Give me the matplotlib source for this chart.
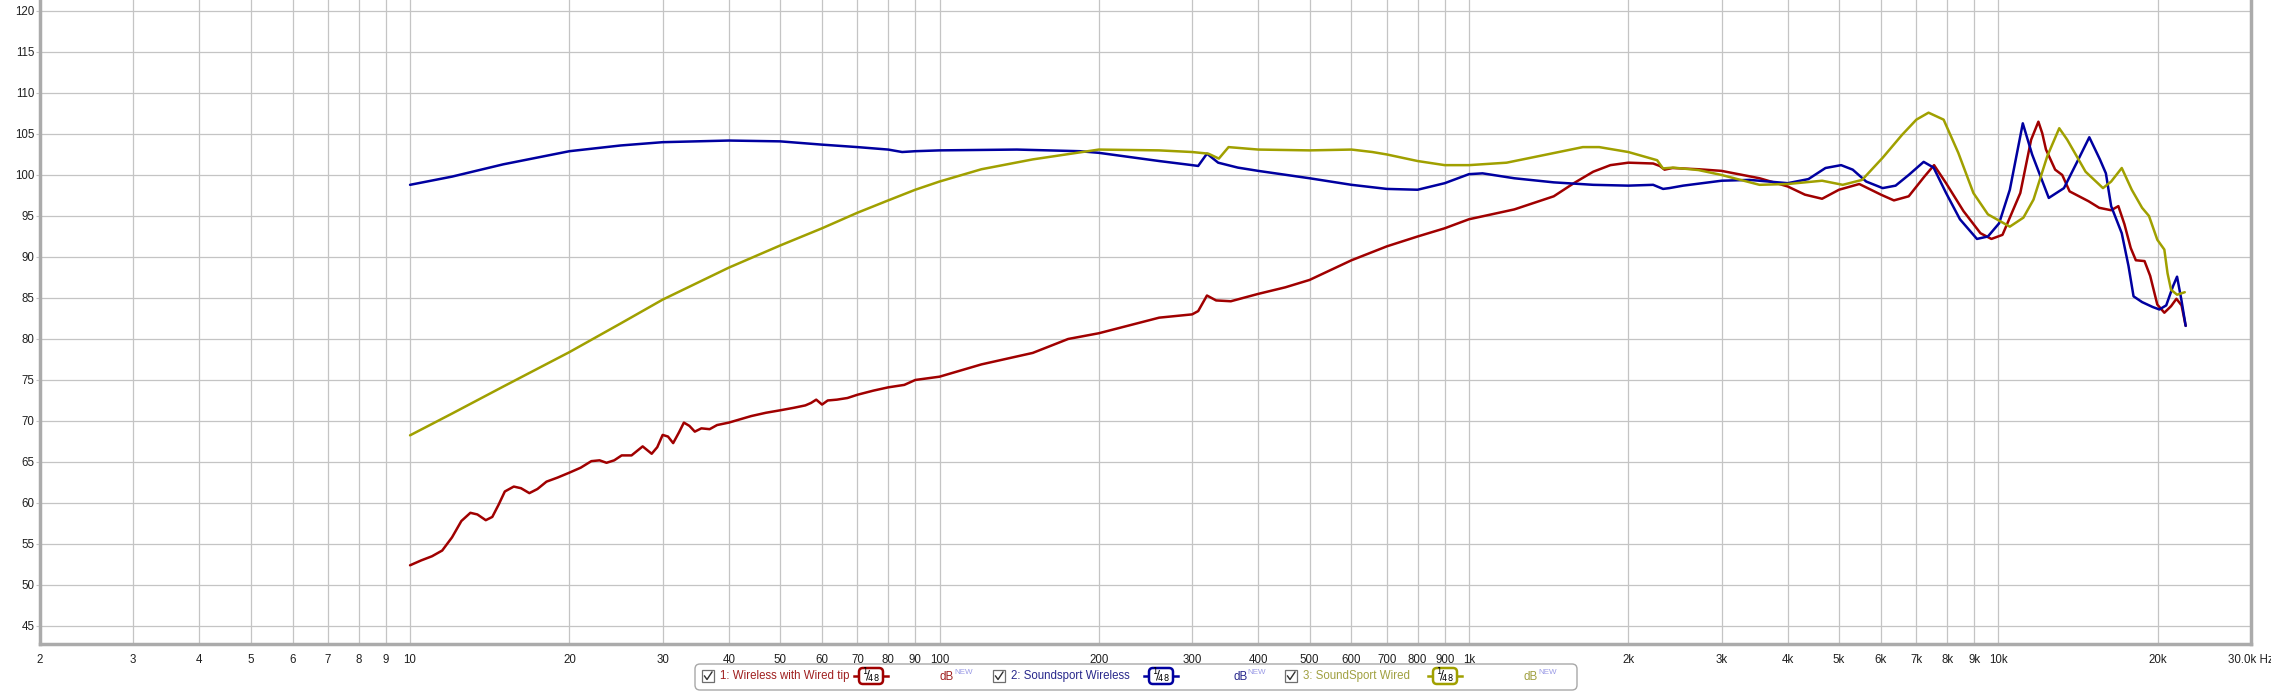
import matplotlib
matplotlib.use("Agg")
import matplotlib.pyplot as plt
from matplotlib.patches import FancyBboxPatch, Rectangle
from matplotlib.lines import Line2D
from matplotlib.ticker import NullLocator

plt.rcParams['font.family'] = ['Liberation Sans', 'DejaVu Sans']

# frequency response data (Hz, dB)
red_freq = [10, 10.5, 11, 11.5, 12, 12.5, 13, 13.4, 13.9, 14.3, 14.7, 15.1, 15.7, 16.2, 16.8,
            17.4, 18.1, 19, 20, 21, 22, 22.8, 23.5, 24.3, 25.1, 26.2, 27.5, 28.6, 29.3, 30,
            30.7, 31.4, 32.2, 32.9, 33.7, 34.5, 35.5, 36.8, 38, 40, 44.1, 47, 50, 53, 55.8,
            57.2, 58.5, 60, 61.5, 64, 67, 70, 75, 80, 85.8, 90, 100, 120, 150, 175, 200, 260,
            300, 308, 320, 333, 355, 400, 450, 500, 600, 700, 800, 900, 1000, 1218, 1446,
            1578, 1717, 1850, 2000, 2228, 2293, 2341, 2423, 2713, 3000, 3539, 4000, 4311,
            4645, 5000, 5461, 6000, 6348, 6770, 7247, 7560, 7965, 8590, 9250, 9700, 10180,
            11000, 11530, 11900, 12100, 12300, 12800, 13200, 13630, 14800, 15500, 16330, 16850,
            17300, 17780, 18180, 18880, 19350, 19960, 20580, 21190, 21690, 22180, 22580]
red_db = [52.4, 53.0, 53.5, 54.2, 55.8, 57.8, 58.8, 58.6, 57.9, 58.3, 59.8, 61.4, 62.0, 61.8, 61.2,
          61.7, 62.6, 63.1, 63.7, 64.3, 65.1, 65.2, 64.9, 65.2, 65.8, 65.8, 66.9, 66.0, 66.8, 68.3,
          68.1, 67.3, 68.6, 69.8, 69.4, 68.7, 69.1, 69.0, 69.5, 69.8, 70.6, 71.0, 71.3, 71.6, 71.9,
          72.2, 72.6, 72.0, 72.5, 72.6, 72.8, 73.2, 73.7, 74.1, 74.4, 75.0, 75.4, 76.9, 78.3, 80.0,
          80.7, 82.6, 83.0, 83.4, 85.3, 84.7, 84.6, 85.5, 86.3, 87.2, 89.6, 91.3, 92.5, 93.5, 94.6,
          95.8, 97.4, 99.0, 100.4, 101.2, 101.5, 101.4, 101.1, 100.65, 100.85, 100.7, 100.5, 99.6,
          98.6, 97.6, 97.1, 98.2, 98.9, 97.6, 96.9, 97.4, 99.8, 101.2, 99.0, 95.6, 92.9, 92.2,
          92.7, 97.8, 104.3, 106.5, 105.1, 103.1, 100.65, 100.0, 98.0, 96.8, 96.0, 95.7, 96.2,
          94.0, 91.1, 89.6, 89.5, 87.7, 84.2, 83.2, 84.0, 84.9, 84.1, 81.6]

blue_freq = [10, 12, 15, 20, 25, 30, 40, 50, 60, 70, 80, 85, 90, 100, 140, 184, 200, 260, 300,
             308, 320, 336, 366, 400, 500, 600, 700, 800, 900, 1000, 1061, 1218, 1446, 1717,
             2000, 2228, 2326, 2391, 2539, 3000, 3390, 4000, 4377, 4714, 5046, 5307, 5628, 6045,
             6395, 6770, 7225, 7544, 7965, 8460, 9110, 9554, 10030, 10510, 11120, 11580, 12450,
             13300, 14160, 14850, 15550, 15960, 16330, 17100, 17610, 18000, 18680, 19560, 20140,
             20750, 21360, 21750, 22160, 22580]
blue_db = [98.8, 99.8, 101.3, 102.9, 103.6, 104.0, 104.2, 104.1, 103.7, 103.4, 103.1, 102.8,
           102.9, 103.0, 103.1, 102.9, 102.7, 101.7, 101.2, 101.1, 102.6, 101.5, 100.9, 100.5,
           99.6, 98.8, 98.3, 98.2, 99.0, 100.1, 100.2, 99.6, 99.1, 98.8, 98.7, 98.8, 98.3, 98.4,
           98.7, 99.3, 99.4, 99.0, 99.5, 100.85, 101.2, 100.65, 99.2, 98.4, 98.7, 100.0, 101.6,
           100.9, 97.8, 94.6, 92.2, 92.5, 94.1, 98.2, 106.3, 102.5, 97.2, 98.4, 101.9, 104.6,
           101.9, 100.2, 96.2, 92.9, 88.9, 85.2, 84.5, 83.9, 83.6, 84.1, 86.4, 87.6, 84.8, 81.6]

olive_freq = [10, 12, 15, 20, 25, 30, 40, 50, 60, 70, 80, 90, 100, 120, 150, 200, 260, 300, 322,
              337, 351.5, 400, 500, 600, 657, 700, 800, 900, 1000, 1178, 1403, 1641, 1762, 2000,
              2267, 2325, 2430, 2713, 3000, 3539, 4000, 4645, 5082, 5528, 6045, 6578, 7000, 7380,
              7880, 8400, 8970, 9554, 10510, 11150, 11650, 12370, 13030, 13490, 14610, 15760,
              16330, 17100, 17860, 18680, 19250, 19960, 20580, 20870, 21190, 21750, 22490]
olive_db = [68.25, 70.9, 74.2, 78.4, 81.9, 84.8, 88.7, 91.4, 93.5, 95.4, 96.9, 98.2, 99.2, 100.7,
            101.9, 103.1, 103.0, 102.8, 102.6, 102.0, 103.4, 103.1, 103.0, 103.1, 102.8, 102.5,
            101.7, 101.2, 101.2, 101.5, 102.5, 103.4, 103.4, 102.8, 101.8, 100.8, 100.9, 100.6,
            100.0, 98.8, 98.9, 99.3, 98.8, 99.4, 102.1, 104.9, 106.75, 107.6, 106.75, 102.7,
            97.8, 95.2, 93.7, 94.8, 97.0, 102.3, 105.7, 104.3, 100.4, 98.4, 99.2, 100.85, 98.2,
            96.0, 95.0, 92.1, 90.9, 88.0, 86.0, 85.4, 85.7]

series_names = ['1: Wireless with Wired tip', '2: Soundsport Wireless', '3: SoundSport Wired']
line_colors = ['#A00000', '#0000A0', '#A0A000']
text_colors = ['#A02020', '#28288C', '#A0A040']

x_ticks = [2, 3, 4, 5, 6, 7, 8, 9, 10, 20, 30, 40, 50, 60, 70, 80, 90, 100,
           200, 300, 400, 500, 600, 700, 800, 900, 1000, 2000, 3000, 4000, 5000,
           6000, 7000, 8000, 9000, 10000, 20000, 30000]
x_tick_labels = ['2', '3', '4', '5', '6', '7', '8', '9', '10', '20', '30', '40', '50', '60',
                 '70', '80', '90', '100', '200', '300', '400', '500', '600', '700', '800', '900',
                 '1k', '2k', '3k', '4k', '5k', '6k', '7k', '8k', '9k', '10k', '20k', '30.0k Hz']
y_ticks = [45, 50, 55, 60, 65, 70, 75, 80, 85, 90, 95, 100, 105, 110, 115, 120]

W, H = 2271, 692


def draw_chart(fig):
    ax = fig.add_axes([40 / W, 1 - 644 / H, (2251 - 40) / W, 644 / H])
    ax.set_xscale('log')
    ax.set_xlim(2, 30000)
    ax.set_ylim(42.8, 121.34)

    curves = [(red_freq, red_db), (blue_freq, blue_db), (olive_freq, olive_db)]
    for (f, d), c in zip(curves, line_colors):
        ax.plot(f, d, color=c, lw=1.8, solid_joinstyle='round', solid_capstyle='round')

    ax.set_xticks(x_ticks)
    ax.set_xticklabels(x_tick_labels)
    ax.xaxis.set_minor_locator(NullLocator())
    ax.set_yticks(y_ticks)
    ax.grid(True, color='#C4C4C4', lw=0.9)
    ax.set_axisbelow(True)
    ax.tick_params(axis='x', length=0, pad=7, labelsize=8.3, colors='#202020')
    ax.tick_params(axis='y', length=3, color='#C4C4C4', pad=1, labelsize=8.3, labelcolor='#202020')

    ax.spines['top'].set_visible(False)
    for side in ['left', 'bottom', 'right']:
        ax.spines[side].set_color('#ABABAB')
        ax.spines[side].set_linewidth(2.5)
    return ax


def px(x, y):
    # pixel position (from top-left) -> inches from bottom-left
    return x / 100, (H - y) / 100


def draw_legend(fig):
    tr = fig.dpi_scale_trans
    box = FancyBboxPatch(px(695, 690), 8.82, 0.26, boxstyle="round,pad=0,rounding_size=0.05",
                         transform=tr, fc='white', ec='#A8A8A8', lw=1)
    fig.add_artist(box)

    yc = 676
    check_x = [702, 993, 1285]
    badge_x = [871, 1161, 1445]
    db_x = [940, 1233, 1524]
    for i in range(3):
        cx = check_x[i]
        fig.add_artist(Rectangle(px(cx, yc + 6), 0.12, 0.12, transform=tr,
                                 fc='white', ec='#6E6E6E', lw=0.9))
        xs = [cx + 2.5, cx + 5, cx + 10]
        ys = [yc, yc + 3.5, yc - 4]
        fig.add_artist(Line2D([x / 100 for x in xs], [(H - y) / 100 for y in ys],
                              transform=tr, color='#303030', lw=1))
        fig.text(*px(cx + 18, yc), series_names[i], transform=tr, ha='left', va='center',
                 fontsize=8.3, color=text_colors[i])

        bx = badge_x[i]
        fig.add_artist(Line2D([(bx - 17) / 100, (bx + 17) / 100], [(H - yc) / 100] * 2,
                              transform=tr, color=line_colors[i], lw=1.8, zorder=2))
        fig.add_artist(FancyBboxPatch(px(bx - 12, yc + 8), 0.24, 0.16,
                                      boxstyle="round,pad=0,rounding_size=0.04", transform=tr,
                                      fc='white', ec=line_colors[i], lw=1.8, zorder=3))
        fig.text(*px(bx, yc), r'$^{1}\!/\!_{48}$', transform=tr, ha='center', va='center',
                 fontsize=8.5, color='black', zorder=4)

        fig.text(*px(db_x[i], yc + 1), 'dB', transform=tr, ha='left', va='center',
                 fontsize=8.3, color=text_colors[i])
        fig.text(*px(db_x[i] + 14, yc - 3), 'NEW', transform=tr, ha='left', va='center',
                 fontsize=5.8, color='#9A9AE6')


def main():
    fig = plt.figure(figsize=(W / 100, H / 100), dpi=100)
    fig.patch.set_facecolor('white')
    draw_chart(fig)
    draw_legend(fig)
    fig.savefig('out.png', dpi=100, facecolor='white')


if __name__ == "__main__":
    main()
